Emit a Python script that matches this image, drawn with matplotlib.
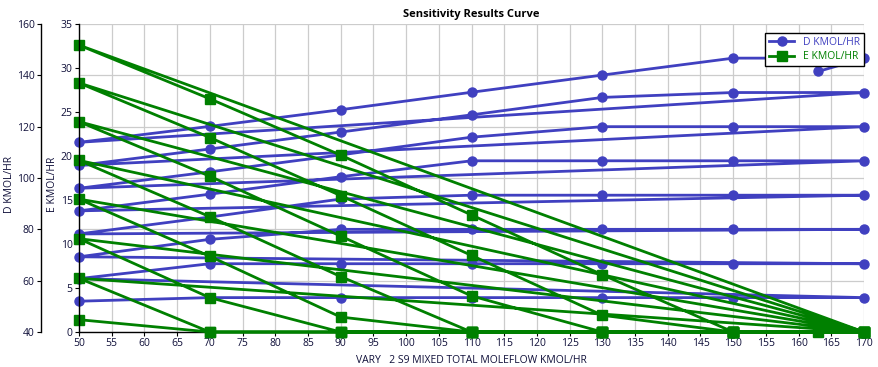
"""
Sensitivity results curve: D and E flow vs varied S9 total moleflow.

Each outer case sweeps the S9 flow from 50 to 170; the series are drawn as
one continuous polyline, so the line jumps back to x=50 between cases.
"""

import matplotlib
matplotlib.use("Agg")
import matplotlib.pyplot as plt
from matplotlib.lines import Line2D


# ----------------------------------------------------------------------------
# Data
# ----------------------------------------------------------------------------

SWEEP_X = [50, 70, 90, 110, 130, 150, 170]

D_CASES = [
    [52.0, 53.4, 53.4, 53.4, 53.4, 53.4, 53.4],
    [60.8, 66.6, 66.6, 66.6, 66.6, 66.6, 66.6],
    [69.3, 76.1, 80.0, 80.0, 80.0, 80.0, 80.0],
    [78.2, 84.8, 91.8, 93.3, 93.3, 93.3, 93.3],
    [87.2, 93.7, 100.5, 106.7, 106.7, 106.7, 106.7],
    [96.0, 102.4, 109.0, 115.9, 120.0, 120.0, 120.0],
    [104.9, 111.3, 117.9, 124.6, 131.4, 133.3, 133.3],
    [113.9, 120.1, 126.6, 133.4, 140.1, 146.7, 146.7],
]

E_CASES = [
    [1.4, 0.0, 0.0, 0.0, 0.0, 0.0, 0.0],
    [6.1, 0.0, 0.0, 0.0, 0.0, 0.0, 0.0],
    [10.6, 3.9, 0.0, 0.0, 0.0, 0.0, 0.0],
    [15.1, 8.6, 1.7, 0.0, 0.0, 0.0, 0.0],
    [19.5, 13.1, 6.3, 0.0, 0.0, 0.0, 0.0],
    [23.9, 17.7, 10.9, 4.1, 0.0, 0.0, 0.0],
    [28.3, 22.1, 15.5, 8.7, 1.9, 0.0, 0.0],
    [32.6, 26.5, 20.1, 13.3, 6.5, 0.0, 0.0],
]

# trailing extra row of the sensitivity table
LAST_X = 163.0
LAST_D = 141.5
LAST_E = 0.0

D_COLOR = "#4040c0"
E_COLOR = "#008000"
TEXT_COLOR = "#10103a"


def flatten():
    xs, ds, es = [], [], []
    for d_row, e_row in zip(D_CASES, E_CASES):
        xs.extend(SWEEP_X)
        ds.extend(d_row)
        es.extend(e_row)
    xs.append(LAST_X)
    ds.append(LAST_D)
    es.append(LAST_E)
    return xs, ds, es


def main():
    plt.rcParams["font.family"] = ["Open Sans", "DejaVu Sans"]
    plt.rcParams["font.size"] = 7.5

    xs, ds, es = flatten()

    fig = plt.figure(figsize=(8.79, 3.67), dpi=100)
    ax_d = fig.add_axes([79 / 879, 35 / 367, 785 / 879, 308 / 367])
    ax_e = ax_d.twinx()

    ax_d.plot(xs, ds, color=D_COLOR, lw=2.0, marker="o", ms=6.5,
              label="D KMOL/HR", clip_on=False)
    ax_e.plot(xs, es, color=E_COLOR, lw=2.0, marker="s", ms=6.5,
              label="E KMOL/HR", clip_on=False)

    ax_d.set_xlim(50, 170)
    ax_d.set_ylim(40, 160)
    ax_e.set_ylim(0, 35)
    ax_d.set_xticks(range(50, 171, 5))
    ax_d.set_yticks(range(40, 161, 20))
    ax_e.set_yticks(range(0, 36, 5))

    # both y axes on the left, D pushed outward
    ax_e.yaxis.tick_left()
    ax_e.yaxis.set_label_position("left")
    ax_d.spines["left"].set_position(("outward", 27.4))
    for ax in (ax_d, ax_e):
        ax.spines["top"].set_visible(False)
        ax.spines["right"].set_visible(False)
        ax.tick_params(length=3, width=0.8, colors="black",
                       labelcolor=TEXT_COLOR, labelsize=7.5, pad=1.5)
    ax_e.spines["bottom"].set_visible(False)
    ax_e.spines["left"].set_linewidth(1.0)
    ax_d.spines["left"].set_linewidth(1.0)
    ax_d.spines["bottom"].set_linewidth(1.0)

    ax_d.grid(True, color="#cccccc", lw=0.9)
    ax_d.set_axisbelow(True)

    ax_d.set_ylabel("D KMOL/HR", color=TEXT_COLOR, fontsize=7.5)
    ax_e.set_ylabel("E KMOL/HR", color=TEXT_COLOR, fontsize=7.5)
    ax_d.yaxis.set_label_coords(-0.081, 0.48)
    ax_e.yaxis.set_label_coords(-0.027, 0.48)
    ax_d.set_xlabel("VARY   2 S9 MIXED TOTAL MOLEFLOW KMOL/HR",
                    color=TEXT_COLOR, fontsize=7.5, labelpad=4)
    ax_d.set_title("Sensitivity Results Curve", fontsize=8,
                   fontweight="bold", color="black", pad=5)

    handles = [
        Line2D([], [], color=D_COLOR, lw=2.0, marker="o", ms=6.5),
        Line2D([], [], color=E_COLOR, lw=2.0, marker="s", ms=6.5),
    ]
    leg = ax_e.legend(handles, ["D KMOL/HR", "E KMOL/HR"],
                      loc="upper right", bbox_to_anchor=(1.0, 0.971),
                      borderaxespad=0, fancybox=False, framealpha=1,
                      edgecolor="black", fontsize=7.5, handlelength=2.4,
                      labelspacing=0.3, borderpad=0.4)
    leg.get_frame().set_linewidth(1.0)
    leg.set_zorder(10)
    for txt, col in zip(leg.get_texts(), (D_COLOR, E_COLOR)):
        txt.set_color(col)

    fig.savefig("out.png", dpi=100)
    plt.close(fig)


if __name__ == "__main__":
    main()
